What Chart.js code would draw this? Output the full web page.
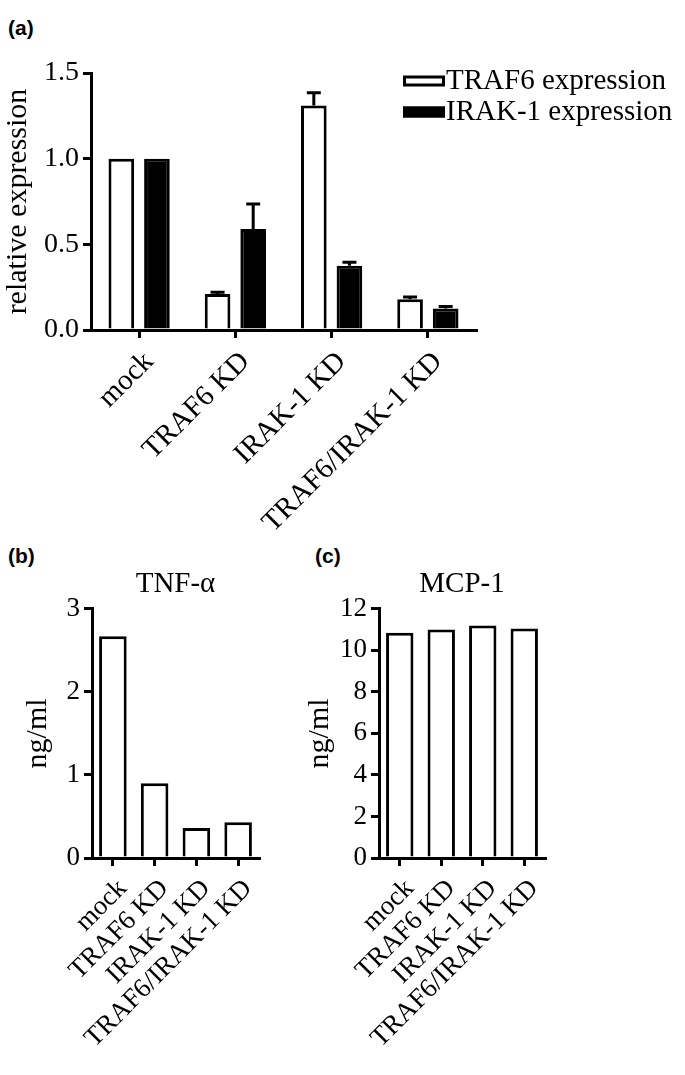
<!DOCTYPE html>
<html>
<head>
<meta charset="utf-8">
<title>TRAF6 / IRAK-1 knockdown</title>
<script src="https://cdn.jsdelivr.net/npm/chart.js@4.4.1/dist/chart.umd.min.js"></script>
<style>
  body { margin: 0; background: #fff; }
  #wrap { position: relative; width: 685px; height: 1075px; overflow: hidden; }
  .panel { position: absolute; }
  .tag { position: absolute; font: bold 21px "Liberation Sans", Arial, sans-serif; line-height: 1; color: #000; }
</style>
</head>
<body>
<div id="wrap">
  <div class="tag" style="left:8px;top:17px">(a)</div>
  <div class="tag" style="left:8px;top:545px">(b)</div>
  <div class="tag" style="left:315px;top:545px">(c)</div>
  <div class="panel" style="left:0;top:0;width:685px;height:560px"><canvas id="chartA"></canvas></div>
  <div class="panel" style="left:0;top:540px;width:300px;height:535px"><canvas id="chartB"></canvas></div>
  <div class="panel" style="left:290px;top:540px;width:395px;height:535px"><canvas id="chartC"></canvas></div>
</div>
<script>
'use strict';
const groups = ['mock', 'TRAF6 KD', 'IRAK-1 KD', 'TRAF6/IRAK-1 KD'];

// (a) relative expression, mean + upper error
const traf6Expr = [1.0, 0.21, 1.31, 0.18];
const traf6Err = [0, 0.01, 0.075, 0.012];
const irakExpr = [1.0, 0.59, 0.375, 0.125];
const irakErr = [0, 0.145, 0.02, 0.012];
const expressionTicks = [0, 0.5, 1.0, 1.5];

// (b) TNF-alpha, (c) MCP-1  (ng/ml)
const tnfValues = [2.67, 0.90, 0.36, 0.43];
const tnfTicks = [0, 1, 2, 3];
const mcpValues = [10.85, 11.0, 11.2, 11.05];
const mcpTicks = [0, 2, 4, 6, 8, 10, 12];

const serif = '"Liberation Serif", "Times New Roman", serif';

const errorBars = {
  id: 'errorBars',
  afterDatasetsDraw(chart, args, opts) {
    const ctx = chart.ctx;
    const yScale = chart.scales.y;
    ctx.save();
    ctx.strokeStyle = '#000';
    ctx.lineWidth = 3;
    chart.data.datasets.forEach((ds, i) => {
      if (!ds.errors) return;
      chart.getDatasetMeta(i).data.forEach((bar, j) => {
        const e = ds.errors[j];
        if (!e) return;
        const top = yScale.getPixelForValue(ds.data[j] + e);
        ctx.beginPath();
        ctx.moveTo(bar.x, bar.y);
        ctx.lineTo(bar.x, top);
        ctx.moveTo(bar.x - opts.cap, top);
        ctx.lineTo(bar.x + opts.cap, top);
        ctx.stroke();
      });
    });
    ctx.restore();
  }
};

const boxLegend = {
  id: 'boxLegend',
  afterDraw(chart, args, opts) {
    const ctx = chart.ctx;
    ctx.save();
    ctx.font = opts.size + 'px ' + serif;
    ctx.textBaseline = 'middle';
    chart.data.datasets.forEach((ds, i) => {
      const y = opts.y + i * opts.rowGap;
      ctx.fillStyle = ds.backgroundColor;
      ctx.fillRect(opts.x, y - opts.boxH / 2, opts.boxW, opts.boxH);
      ctx.strokeStyle = '#000';
      ctx.lineWidth = 3;
      ctx.strokeRect(opts.x + 1.5, y - opts.boxH / 2 + 1.5, opts.boxW - 3, opts.boxH - 3);
      ctx.fillStyle = '#000';
      ctx.fillText(ds.label, opts.x + opts.boxW + 1, y);
    });
    ctx.restore();
  }
};

function xAxis(size, height) {
  return {
    offset: true,
    grid: { offset: false, drawOnChartArea: false, color: '#000', lineWidth: 3, tickLength: 8 },
    border: { color: '#000', width: 3 },
    ticks: {
      color: '#000', font: { family: serif, size: size }, autoSkip: false,
      minRotation: 45, maxRotation: 45, padding: 7, labelOffset: 10
    },
    afterFit: s => { s.height = height; }
  };
}

function yAxis(ticks, decimals, size, title, titlePad, width) {
  return {
    min: ticks[0],
    max: ticks[ticks.length - 1],
    afterBuildTicks: s => { s.ticks = ticks.map(v => ({ value: v })); },
    grid: { drawOnChartArea: false, color: '#000', lineWidth: 3, tickLength: 8 },
    border: { color: '#000', width: 3 },
    ticks: { color: '#000', font: { family: serif, size: size }, padding: 4, callback: v => v.toFixed(decimals) },
    title: { display: true, text: title, color: '#000', font: { family: serif, size: 30 }, padding: { top: titlePad, bottom: 0 } },
    afterFit: s => { s.width = width; }
  };
}

Chart.defaults.animation = false;
Chart.defaults.responsive = true;
Chart.defaults.maintainAspectRatio = false;
Chart.defaults.plugins.tooltip.enabled = false;
Chart.defaults.plugins.legend.display = false;

new Chart(document.getElementById('chartA'), {
  type: 'bar',
  data: {
    labels: groups,
    datasets: [
      { label: 'TRAF6 expression', data: traf6Expr, errors: traf6Err, backgroundColor: '#fff', borderColor: '#000', borderWidth: 3 },
      { label: 'IRAK-1 expression', data: irakExpr, errors: irakErr, backgroundColor: '#000', borderColor: '#000', borderWidth: 3 }
    ]
  },
  options: {
    datasets: { bar: { categoryPercentage: 0.74, barPercentage: 0.72 } },
    layout: { padding: { top: 73, right: 209, left: 0, bottom: 0 } },
    plugins: {
      errorBars: { cap: 7 },
      boxLegend: { x: 403, y: 81, rowGap: 31, boxW: 42, boxH: 11, size: 29 }
    },
    scales: {
      x: xAxis(29, 230),
      y: yAxis(expressionTicks, 1, 28, 'relative expression', 0, 91)
    }
  },
  plugins: [errorBars, boxLegend]
});

function cytokineChart(id, title, values, ticks, titlePad, yWidth, rightPad) {
  return new Chart(document.getElementById(id), {
    type: 'bar',
    data: {
      labels: groups,
      datasets: [{ label: title, data: values, backgroundColor: '#fff', borderColor: '#000', borderWidth: 3 }]
    },
    options: {
      datasets: { bar: { categoryPercentage: 1, barPercentage: 0.66 } },
      layout: { padding: { top: 27, right: rightPad, left: 0, bottom: 0 } },
      plugins: {
        title: { display: true, text: title, fullSize: false, color: '#000', font: { family: serif, size: 29, weight: 'normal' }, padding: { top: 0, bottom: 7 } }
      },
      scales: {
        x: xAxis(27, 217),
        y: yAxis(ticks, 0, 27, 'ng/ml', titlePad, yWidth)
      }
    }
  });
}

cytokineChart('chartB', 'TNF-α', tnfValues, tnfTicks, 20, 92, 41);
cytokineChart('chartC', 'MCP-1', mcpValues, mcpTicks, 12, 89, 140);
</script>
</body>
</html>
